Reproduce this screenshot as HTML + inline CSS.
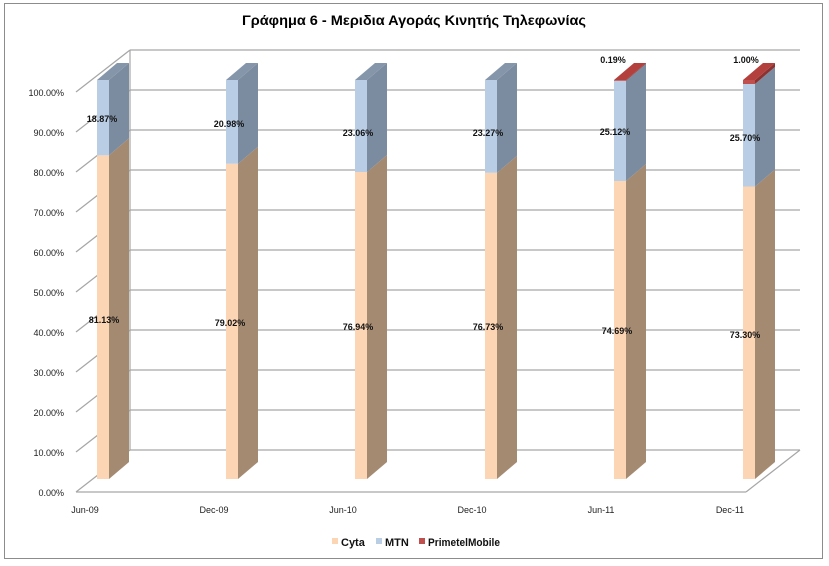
<!DOCTYPE html>
<html><head><meta charset="utf-8"><style>
body{margin:0;background:#fff}
svg{display:block;font-family:"Liberation Sans",sans-serif}
</style></head><body>
<svg width="829" height="566" viewBox="0 0 829 566">
<rect x="4.5" y="3.5" width="818" height="555" fill="#fff" stroke="#8c8c8c"/>
<text x="414" y="25" text-anchor="middle" font-size="14" font-weight="bold" fill="#000" textLength="344" lengthAdjust="spacingAndGlyphs">Γράφημα 6 - Μεριδια Αγοράς Κινητής Τηλεφωνίας</text>
<g stroke="#a6a6a6" stroke-width="1.2" fill="none">
<line x1="130" y1="50" x2="800" y2="50"/><line x1="130" y1="90" x2="800" y2="90"/><line x1="130" y1="130" x2="800" y2="130"/><line x1="130" y1="170" x2="800" y2="170"/><line x1="130" y1="210" x2="800" y2="210"/><line x1="130" y1="250" x2="800" y2="250"/><line x1="130" y1="290" x2="800" y2="290"/><line x1="130" y1="330" x2="800" y2="330"/><line x1="130" y1="370" x2="800" y2="370"/><line x1="130" y1="410" x2="800" y2="410"/><line x1="130" y1="450" x2="800" y2="450"/>
<line x1="130" y1="50" x2="130" y2="450"/>
<line x1="76" y1="92" x2="130" y2="50"/><line x1="76" y1="132" x2="130" y2="90"/><line x1="76" y1="172" x2="130" y2="130"/><line x1="76" y1="212" x2="130" y2="170"/><line x1="76" y1="252" x2="130" y2="210"/><line x1="76" y1="292" x2="130" y2="250"/><line x1="76" y1="332" x2="130" y2="290"/><line x1="76" y1="372" x2="130" y2="330"/><line x1="76" y1="412" x2="130" y2="370"/><line x1="76" y1="452" x2="130" y2="410"/><line x1="76" y1="492" x2="130" y2="450"/>
<line x1="76" y1="492" x2="746" y2="492"/><line x1="746" y1="492" x2="800" y2="450"/>
</g>
<g font-size="9" fill="#222" text-anchor="end">
<text x="64" y="96">100.00%</text><text x="64" y="136">90.00%</text><text x="64" y="176">80.00%</text><text x="64" y="216">70.00%</text><text x="64" y="256">60.00%</text><text x="64" y="296">50.00%</text><text x="64" y="336">40.00%</text><text x="64" y="376">30.00%</text><text x="64" y="416">20.00%</text><text x="64" y="456">10.00%</text><text x="64" y="496">0.00%</text>
</g>
<g font-size="9" fill="#222" text-anchor="middle">
<text x="85" y="513">Jun-09</text><text x="214" y="513">Dec-09</text><text x="343" y="513">Jun-10</text><text x="472" y="513">Dec-10</text><text x="601" y="513">Jun-11</text><text x="730" y="513">Dec-11</text>
</g>
<defs>
<g id="top"><polygon points="0,-399 12,-399 32,-416 20,-416" fill="#8696aa"/></g>
</defs>
<g transform="translate(97,479)">
<rect x="0" y="-323.7" width="12" height="323.7" fill="#fcd5b4"/><polygon points="12,0 32,-17 32,-340.7 12,-323.7" fill="#a58a72"/>
<rect x="0" y="-399" width="12" height="75.3" fill="#b9cde5"/><polygon points="12,-323.7 32,-340.7 32,-416 12,-399" fill="#7b8ba0"/>
<use href="#top"/></g>
<g transform="translate(226,479)">
<rect x="0" y="-315.3" width="12" height="315.3" fill="#fcd5b4"/><polygon points="12,0 32,-17 32,-332.3 12,-315.3" fill="#a58a72"/>
<rect x="0" y="-399" width="12" height="83.7" fill="#b9cde5"/><polygon points="12,-315.3 32,-332.3 32,-416 12,-399" fill="#7b8ba0"/>
<use href="#top"/></g>
<g transform="translate(355,479)">
<rect x="0" y="-307" width="12" height="307" fill="#fcd5b4"/><polygon points="12,0 32,-17 32,-324 12,-307" fill="#a58a72"/>
<rect x="0" y="-399" width="12" height="92" fill="#b9cde5"/><polygon points="12,-307 32,-324 32,-416 12,-399" fill="#7b8ba0"/>
<use href="#top"/></g>
<g transform="translate(485,479)">
<rect x="0" y="-306.2" width="12" height="306.2" fill="#fcd5b4"/><polygon points="12,0 32,-17 32,-323.2 12,-306.2" fill="#a58a72"/>
<rect x="0" y="-399" width="12" height="92.8" fill="#b9cde5"/><polygon points="12,-306.2 32,-323.2 32,-416 12,-399" fill="#7b8ba0"/>
<use href="#top"/></g>
<g transform="translate(614,479)">
<rect x="0" y="-298" width="12" height="298" fill="#fcd5b4"/><polygon points="12,0 32,-17 32,-315 12,-298" fill="#a58a72"/>
<rect x="0" y="-398.2" width="12" height="100.2" fill="#b9cde5"/><polygon points="12,-298 32,-315 32,-415.2 12,-398.2" fill="#7b8ba0"/>
<rect x="0" y="-399" width="12" height="0.8" fill="#c0504d"/><polygon points="12,-398.2 32,-415.2 32,-416 12,-399" fill="#8c3331"/>
<polygon points="0,-399 12,-399 32,-416 20,-416" fill="#b3403d"/></g>
<g transform="translate(743,479)">
<rect x="0" y="-292.5" width="12" height="292.5" fill="#fcd5b4"/><polygon points="12,0 32,-17 32,-309.5 12,-292.5" fill="#a58a72"/>
<rect x="0" y="-395" width="12" height="102.5" fill="#b9cde5"/><polygon points="12,-292.5 32,-309.5 32,-412 12,-395" fill="#7b8ba0"/>
<rect x="0" y="-399" width="12" height="4" fill="#c0504d"/><polygon points="12,-395 32,-412 32,-416 12,-399" fill="#8c3331"/>
<polygon points="0,-399 12,-399 32,-416 20,-416" fill="#b3403d"/></g>
<g font-size="9" font-weight="bold" fill="#111" text-anchor="middle">
<text x="102" y="122">18.87%</text><text x="229" y="127">20.98%</text><text x="358" y="136">23.06%</text><text x="488" y="136">23.27%</text><text x="615" y="135">25.12%</text><text x="745" y="141">25.70%</text>
<text x="104" y="323">81.13%</text><text x="230" y="326">79.02%</text><text x="358" y="330">76.94%</text><text x="488" y="330">76.73%</text><text x="617" y="334">74.69%</text><text x="745" y="338">73.30%</text>
<text x="613" y="63">0.19%</text><text x="746" y="63">1.00%</text>
</g>
<g font-size="11" font-weight="bold" fill="#111">
<rect x="332" y="538" width="6" height="6" fill="#fcd5b4"/><text x="341" y="546">Cyta</text>
<rect x="376" y="538" width="6" height="6" fill="#b9cde5"/><text x="385" y="546">MTN</text>
<rect x="419" y="538" width="6" height="6" fill="#c0504d"/><text x="428" y="546" textLength="72" lengthAdjust="spacingAndGlyphs">PrimetelMobile</text>
</g>
</svg>
</body></html>
